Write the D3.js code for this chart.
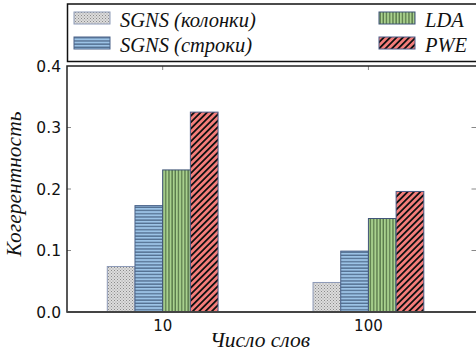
<!DOCTYPE html>
<html><head><meta charset="utf-8">
<script src="https://cdn.jsdelivr.net/npm/d3@7"></script>
<style>body{margin:0;background:#fff}svg{display:block}</style>
</head><body>
<script>
const categories = ["10", "100"];
const seriesNames = ["SGNS (колонки)", "SGNS (строки)", "LDA", "PWE"];
const sgnsCols = [0.074, 0.048];
const sgnsRows = [0.173, 0.099];
const lda = [0.231, 0.152];
const pwe = [0.325, 0.196];
const yTicks = [0.0, 0.1, 0.2, 0.3, 0.4];

(function(){
const seriesValues = [sgnsCols, sgnsRows, lda, pwe];
const W = 476, H = 358;
const svg = d3.select("body").append("svg").attr("width", W).attr("height", H);
const defs = svg.append("defs");

const pDots = defs.append("pattern").attr("id","pDots").attr("patternUnits","userSpaceOnUse").attr("width",3).attr("height",3);
pDots.append("rect").attr("width",3).attr("height",3).attr("fill","#dcdcdc");
pDots.append("rect").attr("x",0).attr("y",0).attr("width",1).attr("height",1).attr("fill","#8a8a8a");
pDots.append("rect").attr("x",1.5).attr("y",1.5).attr("width",1).attr("height",1).attr("fill","#9a9a9a");

const pH = defs.append("pattern").attr("id","pH").attr("patternUnits","userSpaceOnUse").attr("width",4).attr("height",3.2);
pH.append("rect").attr("width",4).attr("height",3.2).attr("fill","#9cc3e6");
pH.append("rect").attr("y",2).attr("width",4).attr("height",1).attr("fill","#3a5273");

const pV = defs.append("pattern").attr("id","pV").attr("patternUnits","userSpaceOnUse").attr("width",3.2).attr("height",4);
pV.append("rect").attr("width",3.2).attr("height",4).attr("fill","#a9d18e");
pV.append("rect").attr("x",2).attr("width",1).attr("height",4).attr("fill","#3d5a33");

const pD = defs.append("pattern").attr("id","pD").attr("patternUnits","userSpaceOnUse").attr("width",4.5).attr("height",4.5).attr("patternTransform","rotate(45)");
pD.append("rect").attr("width",4.5).attr("height",4.5).attr("fill","#f47d7a");
pD.append("rect").attr("x",0).attr("width",1.8).attr("height",4.5).attr("fill","#111");

const fills = ["url(#pDots)","url(#pH)","url(#pV)","url(#pD)"];
const edges = ["#8e9bb8","#4a6289","#3f5478","#4a5a86"];

const pl = 67, pr = 478.5, pt = 66, pb = 312;
const x = d3.scaleLinear().domain([-0.465, 1.535]).range([pl, pr]);
const y = d3.scaleLinear().domain([0, 0.4]).range([pb, pt]);
const bw = 0.1346;

const g = svg.append("g");
const tickColor = "#888";
yTicks.slice(1,4).forEach(t => {
  g.append("line").attr("x1",pl).attr("x2",pl+4).attr("y1",y(t)).attr("y2",y(t)).attr("stroke",tickColor).attr("stroke-width",1);
  g.append("line").attr("x1",pr).attr("x2",pr-7).attr("y1",y(t)).attr("y2",y(t)).attr("stroke",tickColor).attr("stroke-width",1);
});
categories.forEach((c,i) => {
  g.append("line").attr("x1",x(i)).attr("x2",x(i)).attr("y1",pt).attr("y2",pt+4).attr("stroke",tickColor).attr("stroke-width",1);
  g.append("line").attr("x1",x(i)).attr("x2",x(i)).attr("y1",pb).attr("y2",pb-4).attr("stroke",tickColor).attr("stroke-width",1);
});

seriesValues.forEach((vals, s) => {
  svg.append("g").selectAll("rect").data(vals).join("rect")
    .attr("x", (d,i) => x(i - 2*bw + s*bw))
    .attr("width", x(bw) - x(0))
    .attr("y", d => y(d))
    .attr("height", d => y(0) - y(d))
    .attr("fill", fills[s])
    .attr("stroke", edges[s]).attr("stroke-width", 1);
});

svg.append("rect").attr("x",pl).attr("y",pt).attr("width",pr-pl).attr("height",pb-pt)
  .attr("fill","none").attr("stroke","#222").attr("stroke-width",1.5);
svg.append("line").attr("x1",pl).attr("x2",pr).attr("y1",pb).attr("y2",pb).attr("stroke","#444").attr("stroke-width",2);

const tickFont = "DejaVu Sans";
yTicks.forEach(t => {
  svg.append("text").attr("x", pl-6).attr("y", y(t)).attr("dy","0.36em")
    .attr("text-anchor","end").attr("font-family",tickFont).attr("font-size",15.5).attr("fill","#111")
    .text(t.toFixed(1));
});
categories.forEach((c,i) => {
  svg.append("text").attr("x", x(i)).attr("y", 331).attr("text-anchor","middle")
    .attr("font-family",tickFont).attr("font-size",15).attr("fill","#111").text(c);
});

const serif = "Liberation Serif";
svg.append("text").attr("x",260).attr("y",347).attr("text-anchor","middle")
  .attr("font-family",serif).attr("font-style","italic").attr("font-size",21.5).attr("fill","#111").text("Число слов");
svg.append("text").attr("transform","translate(21,184) rotate(-90)").attr("text-anchor","middle")
  .attr("font-family",serif).attr("font-style","italic").attr("font-size",21.5).attr("fill","#111").text("Когерентность");

const lg = svg.append("g");
lg.append("rect").attr("x",67.5).attr("y",4).attr("width",420).attr("height",57.5)
  .attr("fill","#fff").attr("stroke","#111").attr("stroke-width",1.5);
const lpos = [[74,12],[74,37],[379,12],[379,37]];
seriesNames.forEach((n,s) => {
  const [px,py] = lpos[s];
  lg.append("rect").attr("x",px).attr("y",py).attr("width",36).attr("height",12)
    .attr("fill",fills[s]).attr("stroke",edges[s]).attr("stroke-width",1);
  lg.append("text").attr("x",px+46).attr("y",py+15)
    .attr("font-family",serif).attr("font-style","italic").attr("font-size",20.5).attr("fill","#111").text(n);
});
})();
</script>
</body></html>
